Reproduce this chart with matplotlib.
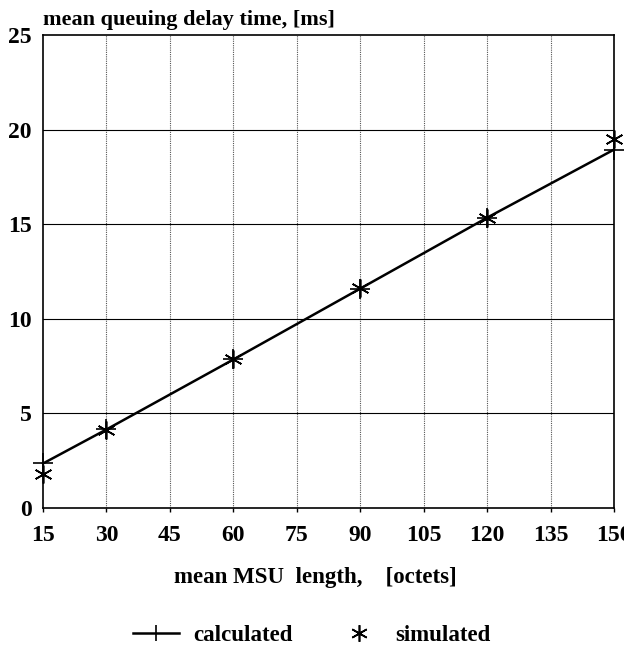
import matplotlib.pyplot as plt
from matplotlib.lines import Line2D

# mean MSU length [octets] vs mean queuing delay [ms]
msu_length = [15, 30, 60, 90, 120, 150]
calculated = [2.35, 4.15, 7.85, 11.6, 15.35, 18.95]
simulated = [1.8, 4.1, 7.9, 11.65, 15.35, 19.5]

x_ticks = [15, 30, 45, 60, 75, 90, 105, 120, 135, 150]
y_ticks = [0, 5, 10, 15, 20, 25]

plt.rcParams['font.family'] = ['Liberation Serif', 'DejaVu Serif']
plt.rcParams['font.weight'] = 'bold'

fig = plt.figure(figsize=(6.24, 6.52), dpi=100)
ax = fig.add_axes([0.069, 0.221, 0.915, 0.725])

# grid: dotted verticals, solid horizontals
for xv in x_ticks[1:-1]:
    ax.axvline(xv, color='#555555', linestyle=(0, (1, 1)), linewidth=0.8, zorder=1)
for yv in y_ticks[1:-1]:
    ax.axhline(yv, color='black', linewidth=0.8, zorder=1)

ax.plot(msu_length, calculated, color='black', linewidth=1.8,
        marker='+', markersize=14, markeredgewidth=1.2, zorder=3, clip_on=False)
ax.plot(msu_length, simulated, linestyle='none', color='black',
        marker=(6, 2, 0), markersize=13, markeredgewidth=1.2, zorder=4, clip_on=False)

ax.set_xlim(15, 150)
ax.set_ylim(0, 25)
ax.set_xticks(x_ticks)
ax.set_yticks(y_ticks)
ax.tick_params(axis='both', labelsize=17, length=3, direction='out', width=1)
ax.tick_params(axis='y', length=0, pad=8)
ax.tick_params(axis='x', pad=9)
for lab in ax.get_xticklabels() + ax.get_yticklabels():
    lab.set_fontweight('bold')
for s in ax.spines.values():
    s.set_linewidth(1.2)

fig.text(0.069, 0.962, 'mean queuing delay time, [ms]', fontsize=16,
         fontweight='bold', ha='left', va='baseline')
fig.text(0.505, 0.106, 'mean MSU  length,    [octets]', fontsize=16.5,
         fontweight='bold', ha='center', va='baseline')

handles = [
    Line2D([], [], color='black', linewidth=1.8, marker='|', markersize=12,
           markeredgewidth=1.2),
    Line2D([], [], color='black', linestyle='none', marker=(6, 2, 0),
           markersize=12, markeredgewidth=1.2),
]
fig.legend(handles, ['calculated', 'simulated'], loc='center',
           bbox_to_anchor=(0.5, 0.025), ncol=2, frameon=False,
           prop={'size': 16.5, 'weight': 'bold'}, columnspacing=1.9,
           handlelength=2.0, handletextpad=0.6)

fig.savefig('out.png', dpi=100)
